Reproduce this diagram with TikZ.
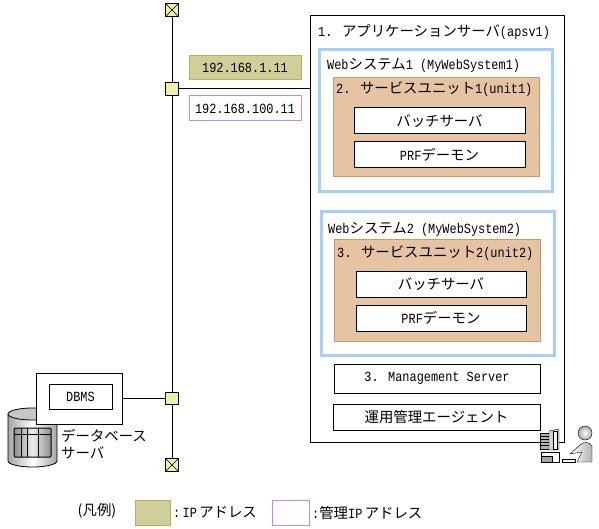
\documentclass[tikz,border=0pt]{standalone}
\usepackage{fontspec}
\setmainfont[FakeStretch=0.85]{Liberation Mono}
\newfontfamily\cjk{Noto Sans CJK JP}
\usetikzlibrary{positioning}
\definecolor{ipfill}{HTML}{D0CF9A}
\definecolor{ipline}{HTML}{B4B45E}
\definecolor{mgline}{HTML}{BB88FF}
\definecolor{webline}{HTML}{A6CEFF}
\definecolor{unitfill}{HTML}{E6C3A3}
\definecolor{unitline}{HTML}{CC9966}
\definecolor{joint}{HTML}{EEEEAE}
\newcommand{\jp}[1]{{\cjk\fontsize{14.4}{16}\selectfont #1}}
\tikzset{
  plainbox/.style={draw=black,line width=1pt,fill=white,inner sep=0pt,outer sep=0pt,font=\fontsize{14}{16}\selectfont},
  unitbox/.style={draw=unitline,line width=1pt,fill=unitfill,inner sep=0pt,outer sep=0pt},
  webbox/.style={draw=webline,line width=3pt,fill=white,inner sep=0pt,outer sep=0pt},
  ipbox/.style={draw=ipline,line width=1pt,fill=ipfill,inner sep=0pt,outer sep=0pt,font=\fontsize{14}{16}\selectfont},
  mgbox/.style={draw=mgline,line width=1pt,fill=white,inner sep=0pt,outer sep=0pt,font=\fontsize{14}{16}\selectfont},
  jointbox/.style={draw=black,line width=1pt,fill=joint,minimum size=12.5pt,inner sep=0pt,outer sep=0pt},
  label/.style={anchor=west,inner sep=0pt,font=\fontsize{14}{16}\selectfont},
  ctext/.style={inner sep=0pt,font=\fontsize{14}{16}\selectfont}
}
\begin{document}
\begin{tikzpicture}[x=1pt,y=-1pt]
  \useasboundingbox (0,0) rectangle (599,529);
  % bus and server frame
  \node[jointbox] (termtop) at (172,10) {};
  \node[jointbox] (termbottom) at (172,465) {};
  \node[jointbox] (jointtop) at (172,89) {};
  \node[jointbox] (jointbottom) at (172,398.5) {};
  \draw[line width=1pt] (termtop) -- (jointtop);
  \draw[line width=1pt] (jointtop) -- (jointbottom);
  \draw[line width=1pt] (jointbottom) -- (termbottom);
  \draw (termtop.north west) -- (termtop.south east);
  \draw (termtop.north east) -- (termtop.south west);
  \draw (termbottom.north west) -- (termbottom.south east);
  \draw (termbottom.north east) -- (termbottom.south west);
  \filldraw[plainbox] (310,16) rectangle (564,442);
  \coordinate (srvleft) at (310,89);
  \draw[line width=1pt] (jointtop) -- (srvleft);
  \node[label] (srvtitle) at (318,32) {1. \jp{アプリケーションサーバ}(apsv1)};
  % addresses
  \node[ipbox,minimum width=112pt,minimum height=24pt] (addr) at (245,68) {192.168.1.11};
  \node[mgbox,minimum width=112pt,minimum height=25pt] (mgaddr) at (245,108.5) {192.168.100.11};
  % web system 1
  \filldraw[webbox] (319,50) rectangle (552,192);
  \node[label] (webone) at (327,65) {Web\jp{システム}1 (MyWebSystem1)};
  \filldraw[unitbox] (333,78) rectangle (539.5,177);
  \node[label] (unitone) at (336,89) {2. \jp{サービスユニット}1(unit1)};
  \node[plainbox,minimum width=171pt,minimum height=26pt] (batchone) at (439.5,121) {\jp{バッチサーバ}};
  \node[plainbox,minimum width=171pt,minimum height=26pt] (prfone) at (439.5,155) {PRF\jp{デーモン}};
  % web system 2
  \filldraw[webbox] (321,212) rectangle (554,355);
  \node[label] (webtwo) at (328,229) {Web\jp{システム}2 (MyWebSystem2)};
  \filldraw[unitbox] (334.5,240) rectangle (540.5,341);
  \node[label] (unittwo) at (337,253) {3. \jp{サービスユニット}2(unit2)};
  \node[plainbox,minimum width=170pt,minimum height=26pt] (batchtwo) at (441,284) {\jp{バッチサーバ}};
  \node[plainbox,minimum width=170pt,minimum height=26pt] (prftwo) at (441,318) {PRF\jp{デーモン}};
  % management
  \node[plainbox,minimum width=206pt,minimum height=29pt] (mgmt) at (437,378.5) {3. Management Server};
  \node[plainbox,minimum width=207pt,minimum height=26pt] (agent) at (436.5,417) {\jp{運用管理エージェント}};
  % database server
  \shade[left color=gray!70,right color=gray!70,middle color=white,draw=black,line width=0.8pt]
    (8,414) -- (8,461) arc[start angle=180,end angle=0,x radius=24.5,y radius=6] -- (57,414) -- cycle;
  \filldraw[fill=gray!45,draw=black,line width=0.8pt] (32.5,414) ellipse[x radius=24.5,y radius=6];
  \shade[left color=gray!90,right color=gray!90,middle color=gray!15,draw=black,line width=1pt,rounded corners=1pt] (14,428) rectangle (51,457);
  \draw[line width=1pt] (14,434) -- (51,434);
  \draw[line width=1pt] (21,428) -- (21,457);
  \draw[line width=1pt] (27,428) -- (27,457);
  \draw[line width=1pt] (38,428) -- (38,457);
  \node[plainbox,minimum width=86pt,minimum height=51pt] (dbhost) at (79,398.5) {};
  \node[plainbox,minimum width=63pt,minimum height=25pt] (dbms) at (80.5,396.5) {DBMS};
  \draw[line width=1pt] (dbhost.east |- jointbottom) -- (jointbottom);
  \node[anchor=north west,inner sep=0pt,align=left] (dbname) at (61,429) {\jp{データベース}\\[3pt]\jp{サーバ}};
  % terminal icon
  \filldraw[fill=gray!60,draw=black] (540,433) rectangle (549,449);
  \foreach \ypos in {436,439,442,445} \draw (540,\ypos) -- (549,\ypos);
  \filldraw[fill=gray!35,draw=black] (549,431) -- (559,429) -- (559,450) -- (549,450) -- cycle;
  \filldraw[fill=gray!10,draw=black] (553,431) rectangle (557,449);
  \filldraw[fill=white,draw=black] (541,452) rectangle (559,462);
  \filldraw[fill=gray!70,draw=black] (541,456) rectangle (552,462);
  \filldraw[fill=white,draw=black] (562,459) rectangle (575,462);
  \shade[inner color=white,outer color=gray!70,draw=black] (585,433) circle (7);
  \shade[left color=white,right color=gray!60,draw=black] (580,445) .. controls (584,441) and (590,442) .. (592,446) -- (592,462) -- (577,462) -- (582,452) -- (570,454) -- cycle;
  % legend
  \node[ctext] (legend) at (97,511) {\jp{(凡例)}};
  \node[ipbox,minimum width=35pt,minimum height=25pt] (legendip) at (152.5,512.5) {};
  \node[label,right=3pt of legendip] (legendiptext) {:\,IP\,\jp{アドレス}};
  \node[mgbox,minimum width=37pt,minimum height=25pt] (legendmg) at (290.5,512.5) {};
  \node[label,right=3pt of legendmg] (legendmgtext) {:\jp{管理}IP\,\jp{アドレス}};
\end{tikzpicture}
\end{document}
